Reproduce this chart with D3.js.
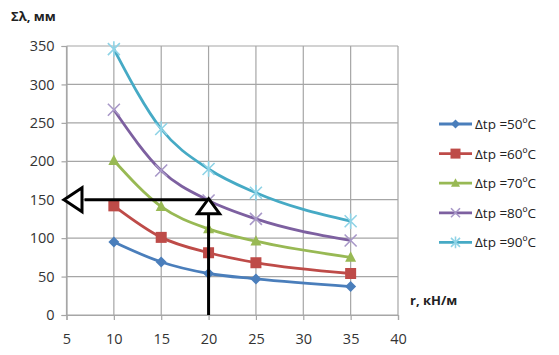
<!DOCTYPE html>
<html><head><meta charset="utf-8">
<script src="https://cdn.jsdelivr.net/npm/d3@7"></script>
<style>body{margin:0;background:#fff}svg{display:block}text{font-family:"Open Sans",Arial,sans-serif}</style>
</head><body><svg id="c" width="559" height="355"></svg>
<script>
const xValues = [10, 15, 20, 25, 35];
const s50 = [95, 69, 54, 47, 37];
const s60 = [142, 101, 81, 68, 54];
const s70 = [201, 141, 112, 96, 75];
const s80 = [267, 188, 149, 125, 97];
const s90 = [346, 242, 190, 159, 122];
const seriesNames = ["Δtp =50ºC", "Δtp =60ºC", "Δtp =70ºC", "Δtp =80ºC", "Δtp =90ºC"];
const xTicks = [5, 10, 15, 20, 25, 30, 35, 40];
const yTicks = [0, 50, 100, 150, 200, 250, 300, 350];
const arrowX = 20, arrowY = 150;
const yTitle = "Σλ, мм", xTitle = "r, кН/м";

const colors = ["#4A7EBB", "#BE4B48", "#98B954", "#7D60A0", "#46AAC5"];
const shapes = ["diamond", "square", "triangle", "x", "star"];
const allSeries = [s50, s60, s70, s80, s90];

const svg = d3.select("#c");
const x = d3.scaleLinear().domain([5, 40]).range([66.5, 398]);
const y = d3.scaleLinear().domain([0, 350]).range([315, 46]);

// grid
const g = svg.append("g");
g.selectAll(".vg").data(xTicks).join("line")
  .attr("x1", d => x(d)).attr("x2", d => x(d)).attr("y1", y(0)).attr("y2", y(350))
  .attr("stroke", "#a6a6a6").attr("stroke-width", 1.2);
g.selectAll(".hg").data(yTicks).join("line")
  .attr("x1", x(5)).attr("x2", x(40)).attr("y1", d => y(d)).attr("y2", d => y(d))
  .attr("stroke", "#a6a6a6").attr("stroke-width", 1.2);

// axes
const xa = svg.append("g").attr("transform", `translate(0,${y(0)})`)
  .call(d3.axisBottom(x).tickValues(xTicks).tickSize(5).tickPadding(14));
const ya = svg.append("g").attr("transform", `translate(${x(5)},0)`)
  .call(d3.axisLeft(y).tickValues(yTicks).tickSize(5).tickPadding(7));
[xa, ya].forEach(a => {
  a.select(".domain").attr("stroke", "#a6a6a6").attr("stroke-width", 1.2);
  a.selectAll(".tick line").attr("stroke", "#a6a6a6").attr("stroke-width", 1.2);
  a.selectAll("text").attr("font-size", 14.5).attr("fill", "#333")
    .attr("font-family", '"Open Sans",Arial,sans-serif');
});

function marker(sel, shape, color, s) {
  if (shape === "diamond") {
    sel.append("path").attr("d", `M0,${-s}L${s},0L0,${s}L${-s},0Z`).attr("fill", color);
  } else if (shape === "square") {
    sel.append("rect").attr("x", -s).attr("y", -s).attr("width", 2*s).attr("height", 2*s).attr("fill", color);
  } else if (shape === "triangle") {
    sel.append("path").attr("d", `M0,${-s*1.1}L${s},${s*0.8}L${-s},${s*0.8}Z`).attr("fill", color);
  } else if (shape === "x") {
    sel.append("path").attr("d", `M${-s},${-s}L${s},${s}M${-s},${s}L${s},${-s}`)
      .attr("stroke", "#A898C8").attr("stroke-width", 1.6);
  } else {
    sel.append("path").attr("d", `M${-s},${-s}L${s},${s}M${-s},${s}L${s},${-s}M0,${-s*1.3}L0,${s*1.3}`)
      .attr("stroke", "#8FD3E6").attr("stroke-width", 1.6);
  }
}

const line = d3.line().x((d, i) => x(xValues[i])).y(d => y(d)).curve(d3.curveMonotoneX);
allSeries.forEach((vals, k) => {
  svg.append("path").datum(vals).attr("d", line).attr("fill", "none")
    .attr("stroke", colors[k]).attr("stroke-width", 2.8);
});
allSeries.forEach((vals, k) => {
  vals.forEach((v, i) => {
    const m = svg.append("g").attr("transform", `translate(${x(xValues[i])},${y(v)})`);
    const sz = [5.5, 5.5, 5.5, 6, 6][k];
    marker(m, shapes[k], colors[k], sz);
  });
});

// arrows
const ax = x(arrowX), ay = y(arrowY), ax0 = x(5);
svg.append("line").attr("x1", ax).attr("x2", ax).attr("y1", y(0)).attr("y2", ay + 14)
  .attr("stroke", "#000").attr("stroke-width", 3);
svg.append("line").attr("x1", ax).attr("x2", ax0 + 18).attr("y1", ay).attr("y2", ay)
  .attr("stroke", "#000").attr("stroke-width", 3);
svg.append("path").attr("d", `M${ax},${ay-1}L${ax+11},${ay+14}L${ax-11},${ay+14}Z`)
  .attr("fill", "#fff").attr("stroke", "#000").attr("stroke-width", 3).attr("stroke-linejoin", "miter");
svg.append("path").attr("d", `M${ax0-2.5},${ay}L${ax0+15.5},${ay-12}L${ax0+15.5},${ay+12}Z`)
  .attr("fill", "#fff").attr("stroke", "#000").attr("stroke-width", 3).attr("stroke-linejoin", "miter");

// titles
svg.append("text").attr("x", 11).attr("y", 21).attr("font-size", 13).attr("font-weight", "bold")
  .attr("fill", "#222").text(yTitle);
svg.append("text").attr("x", 410).attr("y", 305).attr("font-size", 13).attr("font-weight", "bold")
  .attr("fill", "#222").text(xTitle);

// legend
const leg = svg.append("g");
seriesNames.forEach((nm, k) => {
  const ly = 124 + k * 29.6;
  leg.append("line").attr("x1", 439).attr("x2", 472).attr("y1", ly).attr("y2", ly)
    .attr("stroke", colors[k]).attr("stroke-width", 2.8);
  const m = leg.append("g").attr("transform", `translate(455.5,${ly})`);
  marker(m, shapes[k], colors[k], k === 1 ? 5 : 4.5);
  leg.append("text").attr("x", 475).attr("y", ly + 5).attr("font-size", 13.5)
    .attr("fill", "#222").text(nm);
});
</script></body></html>
